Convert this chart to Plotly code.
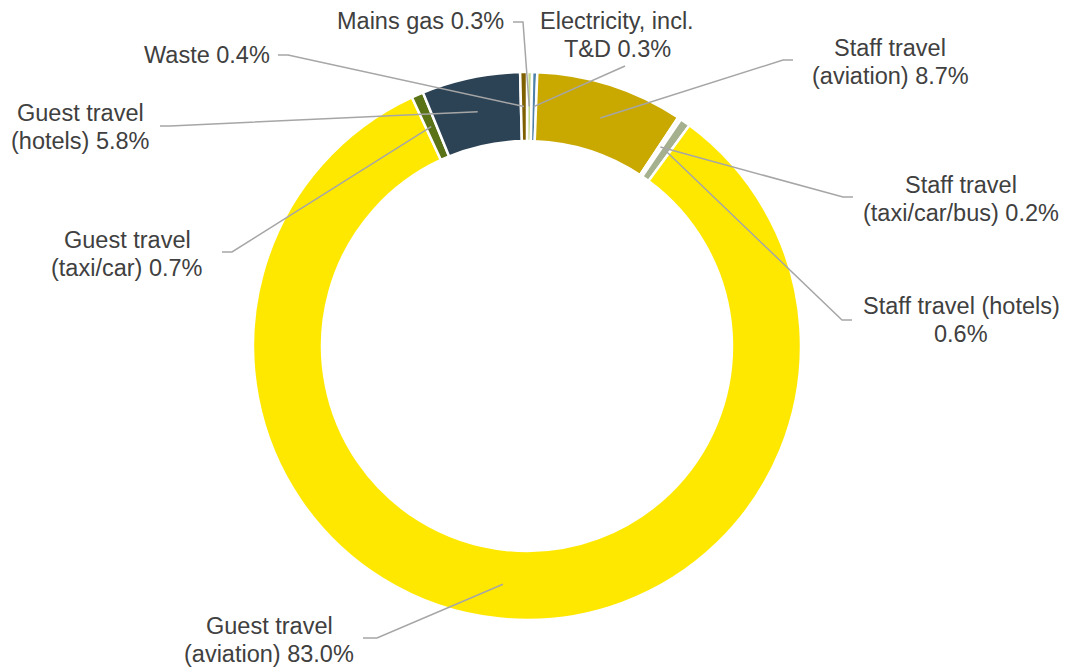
import numpy as np
import plotly.graph_objects as go

# ---- data (clockwise from 12 o'clock) ----
categories = ["Mains gas", "Electricity, incl. T&D", "Staff travel (aviation)",
              "Staff travel (taxi/car/bus)", "Staff travel (hotels)",
              "Guest travel (aviation)", "Guest travel (taxi/car)",
              "Guest travel (hotels)", "Waste"]
values = [0.3, 0.3, 8.7, 0.2, 0.6, 83.0, 0.7, 5.8, 0.4]
label_lines = [["Mains gas 0.3%"],
               ["Electricity, incl.", "T&D 0.3%"],
               ["Staff travel", "(aviation) 8.7%"],
               ["Staff travel", "(taxi/car/bus) 0.2%"],
               ["Staff travel (hotels)", "0.6%"],
               ["Guest travel", "(aviation) 83.0%"],
               ["Guest travel", "(taxi/car) 0.7%"],
               ["Guest travel", "(hotels) 5.8%"],
               ["Waste 0.4%"]]
colors = ["#BFD88A", "#4F81A8", "#C9A800", "#F4F4F4", "#A5B08F",
          "#FFE800", "#5B7317", "#2C4356", "#7F6000"]

# ---- layout (pixels) ----
W, H = 1067, 668
CX, CY, R = 527, 346, 274
HOLE = 0.748
# label centres, elbow points and tick ends (pixels)
label_pos = [(420, 21), (617, 35), (890, 62), (961, 199), (961, 320),
             (269, 640), (127, 254), (80, 127), (207, 55)]
elbows = [(523, 22), (625, 66), (783, 60), (843, 197), (842, 320),
          (377, 638), (232, 252), (170, 126), (288, 55)]
ticks = [(513, 22), None, (793, 60), (853, 197), (852, 320),
         (363, 638), (222, 252), (160, 126), (278, 55)]

FONT = "Liberation Sans, Arial, sans-serif"
FS = 23.5
LINE_H = 28
TEXT_COLOR = "#404040"
LEAD_COLOR = "#A6A6A6"


def px(x, y):
    return x / W, 1 - y / H


fig = go.Figure()
fig.add_trace(go.Pie(
    labels=categories, values=values, sort=False, direction="clockwise",
    rotation=0, hole=HOLE, textinfo="none", hoverinfo="label+percent",
    marker=dict(colors=colors, line=dict(color="white", width=2.5)),
    domain=dict(x=[(CX - R) / W, (CX + R) / W],
                y=[1 - (CY + R) / H, 1 - (CY - R) / H]),
    showlegend=False,
))

total = float(np.sum(values))
cum = np.cumsum([0] + values[:-1])
r_mid = R * (1 + HOLE) / 2
shapes = []
annotations = []
for i, v in enumerate(values):
    frac = (cum[i] + v / 2) / total
    ang = 2 * np.pi * frac
    sx = CX + r_mid * np.sin(ang)
    sy = CY - r_mid * np.cos(ang)
    pts = [(sx, sy), elbows[i]]
    if ticks[i] is not None:
        pts.append(ticks[i])
    path = ""
    for j, (x, y) in enumerate(pts):
        a, b = px(x, y)
        path += ("M" if j == 0 else " L") + f" {a:.5f},{b:.5f}"
    shapes.append(dict(type="path", path=path, xref="paper", yref="paper",
                       line=dict(color=LEAD_COLOR, width=1.5)))
    lx, ly = label_pos[i]
    n = len(label_lines[i])
    for k, t in enumerate(label_lines[i]):
        yy = ly + (k - (n - 1) / 2) * LINE_H
        a, b = px(lx, yy)
        annotations.append(dict(text=t, x=a, y=b, xref="paper", yref="paper",
                                xanchor="center", yanchor="middle",
                                showarrow=False,
                                font=dict(family=FONT, size=FS, color=TEXT_COLOR)))

fig.update_layout(
    width=W, height=H, margin=dict(l=0, r=0, t=0, b=0),
    paper_bgcolor="white", plot_bgcolor="white",
    shapes=shapes, annotations=annotations,
)
fig.write_html("out.html")
